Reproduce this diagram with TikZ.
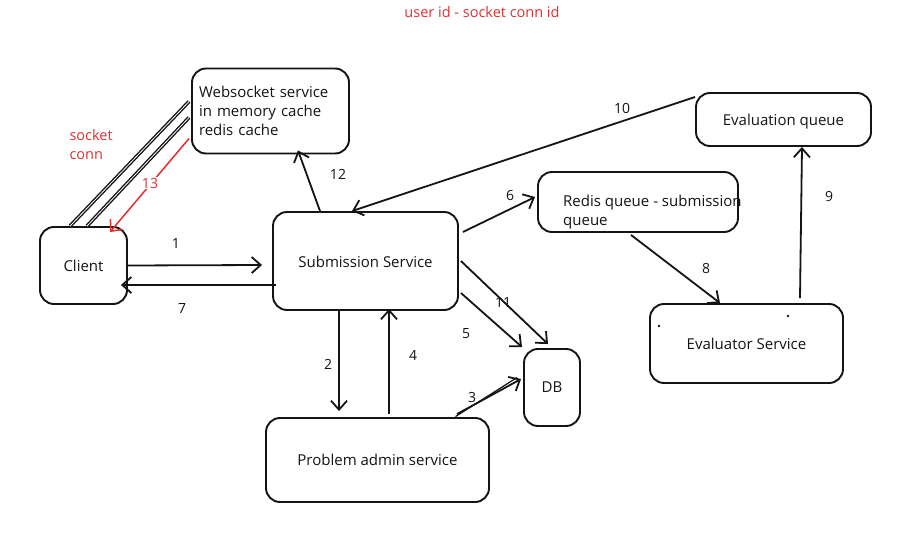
\documentclass[tikz,border=0pt]{standalone}
\usepackage{fontspec}
\setmainfont{Open Sans}
\usetikzlibrary{arrows.meta}
\definecolor{inkred}{RGB}{224,49,49}
\definecolor{ink}{RGB}{20,20,20}
% lower a label inside its box without changing the box's size
\newcommand{\lowered}[1]{\raisebox{-4pt}[8pt][3pt]{#1}}
\begin{document}
\begin{tikzpicture}[x=1pt,y=-1pt,
  every node/.style={font=\fontsize{15}{19}\selectfont, text=ink},
  box/.style={draw=ink, line width=1.9pt, rounded corners=14pt, inner sep=0pt},
  arr/.style={draw=ink, line width=1.8pt, -{Straight Barb[length=9pt,width=16pt,line width=1.8pt]}},
  dbl/.style={draw=ink, line width=1.4pt, double, double distance=0.8pt},
  lbl/.style={font=\fontsize{14}{16}\selectfont},
  redtxt/.style={text=inkred, font=\fontsize{14.5}{19}\selectfont}]
\useasboundingbox[fill=white] (0,0) rectangle (910,540);

% boxes
\node[box, minimum width=157pt, minimum height=85pt, align=left, text width=143pt] (ws) at (270.5,111)
  {Websocket service\\in memory cache\\redis cache};
\node[box, minimum width=87pt, minimum height=77pt] (client) at (83.5,265.5) {Client};
\node[box, minimum width=185pt, minimum height=98pt] (sub) at (365.5,261) {\lowered{Submission Service}};
\node[box, minimum width=200pt, minimum height=60pt] (redis) at (638,202) {};
\node[anchor=west, align=left, inner sep=0pt, font=\fontsize{15}{19}\selectfont] (redistext) at (563,212)
  {Redis queue - submission\\queue};
\node[box, minimum width=175pt, minimum height=53pt] (evalq) at (783.5,119.5) {\lowered{Evaluation queue}};
\node[box, minimum width=193pt, minimum height=79pt] (evaluator) at (746.5,343.5) {Evaluator Service};
\node[box, minimum width=223pt, minimum height=84pt] (admin) at (377.5,460) {Problem admin service};
\node[box, minimum width=56pt, minimum height=77pt] (db) at (552,387.5) {DB};

% stray marks inside the evaluator box
\fill[ink] (659,326) circle (1.3pt);
\fill[ink] (788,316) circle (1.3pt);

% free-standing red notes
\node[redtxt] (note) at (482,12) {user id - socket conn id};
\node[redtxt, anchor=west, align=left] (sock) at (66,145) {socket\\conn};

% socket connection (double strokes)
\draw[dbl] ([xshift=-13.5pt]client.north) -- ([xshift=-2pt,yshift=9.5pt]ws.west);
\draw[dbl] ([xshift=3.5pt]client.north) -- ([xshift=-2pt,yshift=-6.5pt]ws.west);

% red push back to the client
\draw[draw=inkred, line width=1.5pt, -{Straight Barb[length=9pt,width=16pt,line width=1.5pt]}]
  ([xshift=-2pt,yshift=-27.5pt]ws.west) -- ([xshift=26.5pt,yshift=-6pt]client.north);
\node[fill=white, inner sep=1pt, text=inkred, lbl] (l13) at (150,183) {13};

% numbered flows
\draw[arr] (client.east) -- ([xshift=-10pt,yshift=-4pt]sub.west);
\node[lbl] (l1) at (176,244) {1};
\draw[arr] ([xshift=4pt,yshift=-24pt]sub.west) -- ([xshift=-7pt,yshift=-19.5pt]client.east);
\node[lbl] (l7) at (182,309) {7};

\draw[arr] ([xshift=-45.5pt]sub.north) -- ([xshift=27.5pt,yshift=4pt]ws.south);
\node[lbl] (l12) at (338,174) {12};

\draw[arr] ([yshift=22.5pt]evalq.west) -- ([xshift=-13.5pt]sub.north);
\node[lbl] (l10) at (622,108) {10};

\draw[arr] ([xshift=4pt,yshift=29pt]sub.east) -- ([xshift=-2pt,yshift=5pt]redis.west);
\node[lbl] (l6) at (510,196) {6};

\draw[arr] ([xshift=-7pt,yshift=-2pt]redis.south) -- ([xshift=-26.5pt]evaluator.north);
\node[lbl] (l8) at (706,268) {8};

\draw[arr] ([xshift=53.5pt,yshift=5pt]evaluator.north) -- ([xshift=18.5pt]evalq.south);
\node[lbl] (l9) at (829,197) {9};

\draw[arr] ([xshift=2pt]sub.east) -- ([xshift=-4pt,yshift=4pt]db.north);
\node[lbl] (l11) at (503,303) {11};

\draw[arr] ([xshift=2pt,yshift=-32pt]sub.east) -- ([xshift=-1pt,yshift=1pt]db.north west);
\node[lbl] (l5) at (466,334) {5};

\draw[arr] ([xshift=-26.5pt]sub.south) -- ([xshift=-38.5pt,yshift=6pt]admin.north);
\node[lbl] (l2) at (328,364) {2};

\draw[arr] ([xshift=11.5pt,yshift=3pt]admin.north) -- ([xshift=23.5pt,yshift=2pt]sub.south);
\node[lbl] (l4) at (413,355) {4};

\draw[arr] ([xshift=79.5pt,yshift=3pt]admin.north) -- ([xshift=-2pt,yshift=8.5pt]db.west);
\draw[draw=ink, line width=1.2pt] ([xshift=78pt,yshift=0.5pt]admin.north) -- ([xshift=-6pt,yshift=10pt]db.west);
\node[lbl] (l3) at (472,397) {3};
\end{tikzpicture}
\end{document}
